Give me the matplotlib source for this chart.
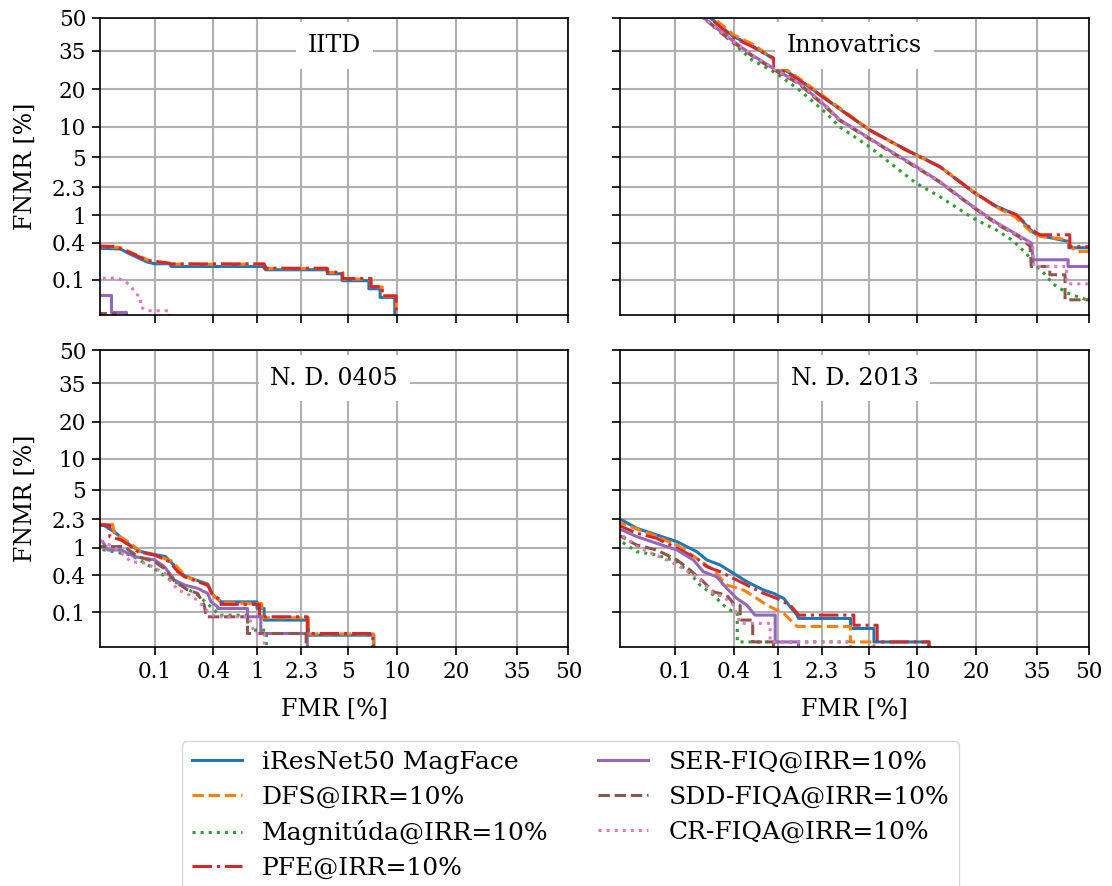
import math
import numpy as np
import matplotlib
matplotlib.use("Agg")
import matplotlib.pyplot as plt

plt.rcParams['font.family'] = ['DejaVu Serif']

# metody (poradie ako v legende)
METHODS = ["iResNet50 MagFace", "DFS@IRR=10%", "Magnitúda@IRR=10%", "PFE@IRR=10%",
           "SER-FIQ@IRR=10%", "SDD-FIQA@IRR=10%", "CR-FIQA@IRR=10%"]
COLORS = ["#1f77b4", "#ff7f0e", "#2ca02c", "#d62728", "#9467bd", "#8c564b", "#e377c2"]
STYLES = ["-", "--", ":", "-.", "-", "--", ":"]

TICKS = [0.1, 0.4, 1, 2.3, 5, 10, 20, 35, 50]
TICK_LABELS = ["0.1", "0.4", "1", "2.3", "5", "10", "20", "35", "50"]

ZERO = 1e-4  # FNMR = 0 -> mimo grafu

# (FMR %, FNMR %) body DET kriviek, odcitane z obrazka
# --- IITD ---
IITD_MAGFACE = [(0.02, 0.33), (0.041, 0.32), (0.05, 0.276), (0.083, 0.198), (0.1, 0.186), (0.144, 0.186),
                (0.15, 0.168), (1.18, 0.168), (1.18, 0.148), (3.58, 0.148), (3.58, 0.127), (4.55, 0.127),
                (4.55, 0.0965), (6.8, 0.0965), (6.8, 0.0697), (7.97, 0.0697), (7.97, 0.0487), (9.72, 0.0487),
                (9.72, ZERO)]
IITD_DFS = [(0.02, 0.35), (0.04, 0.34), (0.055, 0.28), (0.09, 0.205), (0.144, 0.19), (0.16, 0.183),
            (1.15, 0.183), (1.15, 0.155), (3.6, 0.155), (3.6, 0.133), (4.6, 0.133), (4.6, 0.103), (7.0, 0.103),
            (7.0, 0.075), (8.2, 0.075), (8.2, 0.051), (9.9, 0.051), (9.9, ZERO)]
IITD_MAG = [(0.02, 0.025), (0.03, 0.025), (0.03, ZERO)]
IITD_PFE = [(0.02, 0.357), (0.035, 0.35), (0.05, 0.29), (0.083, 0.21), (0.144, 0.19), (0.15, 0.185),
            (1.15, 0.185), (1.15, 0.157), (3.58, 0.157), (3.58, 0.135), (4.55, 0.135), (4.55, 0.105),
            (7.0, 0.105), (7.0, 0.076), (8.2, 0.076), (8.2, 0.052), (9.9, 0.052), (9.9, ZERO)]
IITD_SER = [(0.02, 0.054), (0.032, 0.054), (0.032, 0.026), (0.0475, 0.026), (0.0475, ZERO)]
IITD_SDD = [(0.02, 0.025), (0.035, 0.025), (0.035, ZERO)]
IITD_CR = [(0.02, 0.107), (0.038, 0.107), (0.046, 0.094), (0.054, 0.079), (0.06, 0.058), (0.0695, 0.05),
           (0.0695, 0.032), (0.084, 0.0275), (0.144, 0.0275), (0.144, ZERO)]

# --- Innovatrics ---
INNO_MAGFACE = [(0.14, 58), (0.25, 49.0), (0.39, 41.5), (0.6, 37.0), (0.92, 31.5), (0.95, 28.0), (1.2, 26.5),
                (1.55, 23.0), (2.3, 17.8), (3.1, 14.2), (5.0, 9.4), (8.6, 6.0), (13.2, 4.0), (19.3, 2.0),
                (24.4, 1.32), (29.4, 1.0), (33.7, 0.58), (35, 0.52), (44, 0.417), (44, 0.334), (55, 0.334)]
INNO_DFS = [(0.15, 58), (0.26, 49.5), (0.40, 42.0), (0.62, 37.5), (0.95, 31.0), (0.97, 28.0), (1.22, 26.8),
            (1.55, 23.5), (2.35, 17.9), (3.1, 14.5), (5.1, 9.3), (8.6, 5.9), (13.2, 4.0), (19.3, 2.05),
            (24.4, 1.28), (29, 0.95), (33.7, 0.55), (36, 0.496), (43, 0.45), (46, 0.293), (55, 0.293)]
INNO_MAG = [(0.12, 58), (0.2, 50), (0.38, 39.0), (0.59, 31.0), (0.967, 25.8), (1.52, 19.8), (2.48, 13.1),
            (3.1, 10.0), (5.03, 6.45), (9.82, 2.56), (13.2, 1.76), (19.3, 0.909), (24.4, 0.621), (28.5, 0.43),
            (32.0, 0.27), (34.8, 0.168), (37.0, 0.127), (39.4, 0.085), (43.4, 0.059), (49.3, 0.044), (55, 0.044)]
INNO_PFE = [(0.14, 58), (0.243, 49.1), (0.38, 41.3), (0.59, 36.8), (0.93, 31.7), (0.93, 27.8), (1.18, 26.2),
            (1.52, 23.2), (2.31, 17.7), (3.1, 14.3), (5.03, 9.33), (8.58, 5.98), (13.2, 3.97), (19.3, 2.03),
            (24.4, 1.30), (29.4, 1.01), (33.5, 0.62), (35.7, 0.525), (44.3, 0.525), (44.3, 0.347), (55, 0.347)]
INNO_SER = [(0.12, 58), (0.2, 50), (0.38, 39.8), (0.59, 33.1), (0.967, 27.0), (1.52, 22.1), (2.48, 14.8),
            (3.1, 11.6), (5.03, 7.8), (9.82, 3.97), (13.2, 2.68), (19.3, 1.30), (24.4, 0.79), (30.3, 0.5),
            (33.4, 0.394), (33.8, 0.216), (43.8, 0.216), (43.8, 0.168), (55, 0.168)]
INNO_SDD = [(0.12, 58), (0.2, 50), (0.37, 39.5), (0.58, 33.0), (0.95, 26.8), (1.5, 22.0), (2.45, 14.7),
            (3.1, 11.4), (5.03, 7.7), (9.82, 3.9), (13.2, 2.65), (19.3, 1.28), (24.4, 0.76), (30.3, 0.48),
            (33, 0.35), (33.3, 0.168), (38.5, 0.168), (38.5, 0.122), (42.9, 0.122), (42.9, 0.044), (55, 0.044)]
INNO_CR = [(0.12, 58), (0.2, 50), (0.38, 39.6), (0.59, 33.2), (0.97, 27.0), (1.52, 22.2), (2.48, 14.9),
           (3.1, 11.5), (5.03, 7.8), (9.82, 4.0), (13.2, 2.7), (19.3, 1.32), (24.4, 0.78), (30.3, 0.5),
           (33.7, 0.36), (34, 0.168), (43.4, 0.168), (43.4, 0.085), (55, 0.085)]

# --- N. D. 0405 ---
ND05_MAGFACE = [(0.02, 1.94), (0.026, 1.94), (0.035, 1.6), (0.045, 1.26), (0.0543, 1.05), (0.07, 0.88),
                (0.0994, 0.8), (0.13, 0.75), (0.15, 0.62), (0.18, 0.47), (0.206, 0.39), (0.28, 0.33),
                (0.352, 0.29), (0.39, 0.2), (0.472, 0.15), (1.0, 0.15), (1.0, 0.116), (1.15, 0.116),
                (1.15, 0.073), (2.6, 0.073), (2.6, 0.0388), (7.3, 0.0388), (7.3, ZERO)]
ND05_DFS = [(0.02, 2.0), (0.033, 2.0), (0.035, 1.5), (0.045, 1.3), (0.058, 1.05), (0.07, 0.86), (0.1, 0.78),
            (0.15, 0.65), (0.185, 0.48), (0.21, 0.38), (0.29, 0.32), (0.36, 0.27), (0.40, 0.19), (0.48, 0.145),
            (1.1, 0.14), (1.1, 0.08), (2.6, 0.08), (2.6, 0.041), (7.25, 0.041), (7.25, ZERO)]
ND05_MAG = [(0.02, 0.977), (0.0543, 0.789), (0.1035, 0.477), (0.138, 0.357), (0.19, 0.281), (0.28, 0.194),
            (0.393, 0.116), (0.438, 0.0955), (0.45, 0.089), (0.824, 0.089), (0.824, 0.048), (1.2, 0.048),
            (1.2, ZERO)]
ND05_PFE = [(0.02, 1.97), (0.0305, 1.97), (0.0305, 1.40), (0.0417, 1.26), (0.0543, 1.03), (0.0648, 0.877),
            (0.0994, 0.789), (0.144, 0.632), (0.176, 0.45), (0.206, 0.378), (0.28, 0.317), (0.352, 0.281),
            (0.393, 0.194), (0.472, 0.16), (0.472, 0.136), (1.05, 0.136), (1.05, 0.0833), (2.55, 0.0833),
            (2.55, 0.0417), (7.2, 0.0417), (7.2, ZERO)]
ND05_SER = [(0.02, 1.2), (0.025, 1.2), (0.029, 0.926), (0.0417, 0.926), (0.0596, 0.746), (0.0994, 0.67),
            (0.127, 0.534), (0.163, 0.336), (0.206, 0.281), (0.28, 0.249), (0.352, 0.207), (0.378, 0.15),
            (0.438, 0.124), (0.438, 0.116), (0.824, 0.116), (0.824, 0.0833), (1.076, 0.0833), (1.076, 0.0417),
            (2.55, 0.0417), (2.55, ZERO)]
ND05_SDD = [(0.02, 1.03), (0.045, 1.03), (0.0648, 0.746), (0.0994, 0.632), (0.127, 0.50), (0.163, 0.32),
            (0.223, 0.234), (0.28, 0.207), (0.326, 0.132), (0.338, 0.0892), (0.338, 0.0833), (0.824, 0.0833),
            (0.824, 0.0417), (2.5, 0.0417), (2.5, ZERO)]
ND05_CR = [(0.02, 1.47), (0.025, 1.2), (0.035, 1.0), (0.0543, 0.632), (0.08, 0.6), (0.127, 0.426),
           (0.176, 0.234), (0.214, 0.209), (0.28, 0.16), (0.352, 0.102), (0.422, 0.0833), (0.85, 0.0833),
           (0.95, 0.0417), (1.15, 0.0417), (1.15, ZERO)]

# --- N. D. 2013 ---
ND13_MAGFACE = [(0.02, 2.35), (0.0239, 2.28), (0.0364, 1.79), (0.062, 1.47), (0.104, 1.2), (0.169, 0.877),
                (0.215, 0.67), (0.293, 0.566), (0.395, 0.426), (0.53, 0.317), (0.753, 0.234), (0.923, 0.207),
                (1.13, 0.171), (1.28, 0.124), (1.46, 0.0892), (1.5, 0.078), (3.74, 0.078), (3.74, 0.0516),
                (5.41, 0.0516), (5.41, 0.029), (11.6, 0.029), (11.6, ZERO)]
ND13_DFS = [(0.02, 2.1), (0.0239, 2.07), (0.062, 1.40), (0.104, 1.08), (0.169, 0.708), (0.251, 0.477),
            (0.34, 0.281), (0.493, 0.234), (0.655, 0.171), (0.806, 0.132), (1.13, 0.0955), (1.46, 0.056),
            (3.74, 0.056), (3.74, 0.029), (5.41, 0.029), (5.41, ZERO)]
ND13_MAG = [(0.02, 1.25), (0.0239, 1.2), (0.0364, 0.877), (0.062, 0.789), (0.104, 0.632), (0.144, 0.426),
            (0.183, 0.281), (0.251, 0.194), (0.316, 0.132), (0.367, 0.109), (0.43, 0.0955), (0.43, 0.029),
            (3.6, 0.029), (3.6, ZERO)]
ND13_PFE = [(0.02, 1.95), (0.0239, 1.88), (0.0364, 1.55), (0.062, 1.33), (0.104, 0.977), (0.169, 0.708),
            (0.215, 0.534), (0.293, 0.45), (0.395, 0.357), (0.53, 0.281), (0.753, 0.207), (0.987, 0.171),
            (1.28, 0.132), (1.51, 0.0892), (3.95, 0.0892), (3.95, 0.059), (5.68, 0.059), (5.68, 0.029),
            (11.6, 0.029), (11.6, ZERO)]
ND13_SER = [(0.02, 1.75), (0.0239, 1.71), (0.0364, 1.40), (0.062, 1.14), (0.104, 0.926), (0.156, 0.67),
            (0.198, 0.45), (0.271, 0.378), (0.34, 0.249), (0.426, 0.171), (0.53, 0.132), (0.61, 0.0955),
            (0.63, 0.0892), (0.954, 0.0892), (0.954, 0.029), (1.5, 0.029), (1.5, ZERO)]
ND13_SDD = [(0.02, 1.45), (0.0239, 1.40), (0.0364, 1.08), (0.062, 0.926), (0.104, 0.67), (0.144, 0.477),
            (0.198, 0.317), (0.251, 0.219), (0.34, 0.194), (0.395, 0.141), (0.458, 0.132), (0.458, 0.073),
            (0.6, 0.073), (0.6, 0.029), (0.923, 0.029), (0.923, ZERO)]
ND13_CR = [(0.02, 1.5), (0.0239, 1.47), (0.0364, 1.03), (0.08, 0.67), (0.104, 0.566), (0.169, 0.378),
           (0.251, 0.207), (0.316, 0.183), (0.395, 0.132), (0.458, 0.0637), (0.861, 0.0637), (0.861, 0.029),
           (3.74, 0.029), (3.74, ZERO)]

PANELS = [
    ("IITD", [IITD_MAGFACE, IITD_DFS, IITD_MAG, IITD_PFE, IITD_SER, IITD_SDD, IITD_CR]),
    ("Innovatrics", [INNO_MAGFACE, INNO_DFS, INNO_MAG, INNO_PFE, INNO_SER, INNO_SDD, INNO_CR]),
    ("N. D. 0405", [ND05_MAGFACE, ND05_DFS, ND05_MAG, ND05_PFE, ND05_SER, ND05_SDD, ND05_CR]),
    ("N. D. 2013", [ND13_MAGFACE, ND13_DFS, ND13_MAG, ND13_PFE, ND13_SER, ND13_SDD, ND13_CR]),
]

# probit (inverzna normalna distribucia), Acklam
_A = [-3.969683028665376e+01, 2.209460984245205e+02, -2.759285104469687e+02,
      1.383577518672690e+02, -3.066479806614716e+01, 2.506628277459239e+00]
_B = [-5.447609879822406e+01, 1.615858368580409e+02, -1.556989798598866e+02,
      6.680131188771972e+01, -1.328068155288572e+01]
_C = [-7.784894002430293e-03, -3.223964580411365e-01, -2.400758277161838e+00,
      -2.549671348620745e+00, 4.374664141464968e+00, 2.938163982698783e+00]
_D = [7.784695709041462e-03, 3.224671290700398e-01, 2.445134137142996e+00, 3.754408661907416e+00]


def probit(p):
    p = np.clip(np.asarray(p, dtype=float), 1e-12, 1 - 1e-12)
    q = np.where(p < 0.5, p, 1 - p)
    lo = q < 0.02425
    t = np.sqrt(-2 * np.log(np.where(lo, q, 0.01)))
    tail = ((((((_C[0] * t + _C[1]) * t + _C[2]) * t + _C[3]) * t + _C[4]) * t + _C[5]) /
            ((((_D[0] * t + _D[1]) * t + _D[2]) * t + _D[3]) * t + 1))
    r = q - 0.5
    s = r * r
    mid = ((((((_A[0] * s + _A[1]) * s + _A[2]) * s + _A[3]) * s + _A[4]) * s + _A[5]) * r /
           (((((_B[0] * s + _B[1]) * s + _B[2]) * s + _B[3]) * s + _B[4]) * s + 1))
    z = np.where(lo, tail, mid)
    return np.where(p < 0.5, z, -z)


_erf = np.vectorize(math.erf, otypes=[float])


def fwd(pct):
    return probit(np.asarray(pct, dtype=float) / 100.0)


def inv(z):
    return 50.0 * (1 + _erf(np.asarray(z, dtype=float) / math.sqrt(2)))


LOW = float(inv(-3.5))

fig, axes = plt.subplots(2, 2, figsize=(11.12, 8.86), dpi=100, sharex=True, sharey=True)
fig.subplots_adjust(left=0.0899, right=0.9793, top=0.9797, bottom=0.2698, wspace=0.111, hspace=0.121)

for ax, (title, curves) in zip(axes.flat, PANELS):
    ax.set_xscale('function', functions=(fwd, inv))
    ax.set_yscale('function', functions=(fwd, inv))
    for pts, name, c, ls in zip(curves, METHODS, COLORS, STYLES):
        fmr = [p[0] for p in pts]
        fnmr = [p[1] for p in pts]
        ax.plot(fmr, fnmr, color=c, ls=ls, lw=2.2, label=name)
    ax.set_xlim(LOW, 50)
    ax.set_ylim(LOW, 50)
    ax.set_xticks(TICKS, TICK_LABELS)
    ax.set_yticks(TICKS, TICK_LABELS)
    ax.minorticks_off()
    ax.grid(True, color='#b0b0b0', lw=1.5)
    ax.tick_params(labelsize=15.5, length=6, width=1.2, pad=4)
    for sp in ax.spines.values():
        sp.set_linewidth(1.2)
    ax.text(0.5, 0.885, title, transform=ax.transAxes, ha='center', va='baseline', fontsize=17,
            zorder=5, bbox=dict(boxstyle='square,pad=0.5', fc='white', ec='none'))

for ax in axes[1]:
    ax.set_xlabel('FMR [%]', fontsize=17, labelpad=11)
for ax in axes[:, 0]:
    ax.set_ylabel('FNMR [%]', fontsize=17, labelpad=11)

handles, labels = axes[0, 0].get_legend_handles_labels()
fig.legend(handles, labels, loc='upper center', bbox_to_anchor=(0.513, 0.1637), ncol=2, fontsize=18,
           labelspacing=0.47, handlelength=2.0, columnspacing=2.0, borderaxespad=0)

fig.savefig('out.png', dpi=100)
